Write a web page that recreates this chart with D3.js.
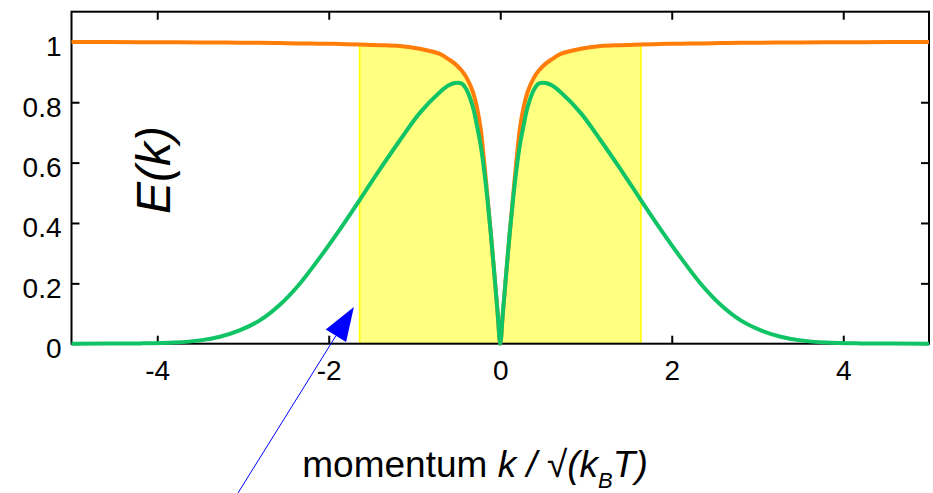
<!DOCTYPE html>
<html>
<head>
<meta charset="utf-8">
<script src="https://cdn.jsdelivr.net/npm/d3@7"></script>
<style>
  body { margin: 0; background: #fff; }
  svg { display: block; font-family: "Liberation Sans", Arial, sans-serif; }
</style>
</head>
<body>
<svg></svg>
<script>
// E(k) vs momentum (curve is symmetric about k = 0)
const kValues = [-5, -4.2, -3.8, -3.5, -3.27, -3.04, -2.8, -2.57, -2.34, -2.1, -1.87, -1.64, -1.52, -1.4, -1.17,
  -0.94, -0.705, -0.6, -0.53, -0.45, -0.39, -0.32, -0.27, -0.23, -0.19, -0.15, -0.11, -0.07, -0.03, 0,
  0.03, 0.07, 0.11, 0.15, 0.19, 0.23, 0.27, 0.32, 0.39, 0.45, 0.53, 0.6, 0.705, 0.94,
  1.17, 1.4, 1.52, 1.64, 1.87, 2.1, 2.34, 2.57, 2.8, 3.04, 3.27, 3.5, 3.8, 4.2, 5];

const orangeValues = [1.000, 0.999, 0.999, 0.998, 0.998, 0.997, 0.997, 0.996, 0.995, 0.994, 0.993, 0.991, 0.990, 0.989, 0.986,
  0.977, 0.960, 0.942, 0.928, 0.905, 0.880, 0.835, 0.780, 0.715, 0.610, 0.490, 0.365, 0.235, 0.100, 0,
  0.100, 0.235, 0.365, 0.490, 0.610, 0.715, 0.780, 0.835, 0.880, 0.905, 0.928, 0.942, 0.960, 0.977,
  0.986, 0.989, 0.990, 0.991, 0.993, 0.994, 0.995, 0.996, 0.997, 0.997, 0.998, 0.998, 0.999, 0.999, 1.000];

const greenValues = [0.000, 0.001, 0.004, 0.011, 0.023, 0.044, 0.078, 0.129, 0.198, 0.287, 0.379, 0.476, 0.528, 0.579, 0.674,
  0.764, 0.833, 0.856, 0.864, 0.862, 0.840, 0.785, 0.720, 0.660, 0.580, 0.480, 0.365, 0.235, 0.100, 0,
  0.100, 0.235, 0.365, 0.480, 0.580, 0.660, 0.720, 0.785, 0.840, 0.862, 0.864, 0.856, 0.833, 0.764,
  0.674, 0.579, 0.528, 0.476, 0.379, 0.287, 0.198, 0.129, 0.078, 0.044, 0.023, 0.011, 0.004, 0.001, 0.000];

const bandRange = [-1.64, 1.64];
const xTicks = [-4, -2, 0, 2, 4];
const yTicks = [0, 0.2, 0.4, 0.6, 0.8, 1];

const width = 933, height = 493;
const margin = { top: 12, right: 4, bottom: 149, left: 71.5 };

const svg = d3.select("svg").attr("width", width).attr("height", height);

const x = d3.scaleLinear().domain([-5, 5]).range([margin.left, width - margin.right]);
const y = d3.scaleLinear().domain([0, 1.1]).range([height - margin.bottom - 0.3, margin.top - 0.3]);

const orange = kValues.map((k, i) => ({ k, v: orangeValues[i] }));
const green = kValues.map((k, i) => ({ k, v: greenValues[i] }));

const smooth = d3.curveCatmullRom.alpha(0.5);

// yellow shaded band under the orange curve
const band = orange.filter(d => d.k >= bandRange[0] && d.k <= bandRange[1]);
svg.append("path")
  .datum(band)
  .attr("fill", "#ffff80")
  .attr("d", d3.area().x(d => x(d.k)).y0(y(0)).y1(d => y(d.v)).curve(smooth));

// band edges
svg.selectAll(".edge")
  .data([band[0], band[band.length - 1]])
  .enter().append("line")
  .attr("x1", d => x(d.k)).attr("x2", d => x(d.k))
  .attr("y1", y(0)).attr("y2", d => y(d.v))
  .attr("stroke", "#ffff00")
  .attr("stroke-width", 1.6);

// axes, ticks pointing inward
const plotW = x.range()[1] - x.range()[0];
const plotH = y.range()[0] - y.range()[1];

svg.append("g")
  .attr("transform", `translate(0,${y(0)})`)
  .call(d3.axisBottom(x).tickValues(xTicks).tickSize(-8).tickPadding(16).tickFormat(d => String(d)))
  .call(g => g.select(".domain").remove());

svg.append("g")
  .attr("transform", `translate(0,${y(1.1)})`)
  .call(d3.axisTop(x).tickValues(xTicks).tickSize(-8).tickFormat(""))
  .call(g => g.select(".domain").remove());

svg.append("g")
  .attr("transform", `translate(${x(-5)},0)`)
  .call(d3.axisLeft(y).tickValues(yTicks).tickSize(-8).tickPadding(10).tickFormat(d => String(d)))
  .call(g => g.select(".domain").remove())
  .call(g => g.selectAll("text").attr("dy", "0.5em"));

svg.append("g")
  .attr("transform", `translate(${x(5)},0)`)
  .call(d3.axisRight(y).tickValues(yTicks).tickSize(-8).tickFormat(""))
  .call(g => g.select(".domain").remove());

svg.selectAll(".tick line").attr("stroke", "#000").attr("stroke-width", 2);
svg.selectAll(".tick text").attr("font-size", 28).attr("fill", "#000")
  .attr("font-family", "'Liberation Sans', Arial, sans-serif");

svg.append("rect")
  .attr("x", x(-5)).attr("y", y(1.1))
  .attr("width", plotW).attr("height", plotH)
  .attr("fill", "none").attr("stroke", "#000").attr("stroke-width", 2);

// curves
const line = d3.line().x(d => x(d.k)).y(d => y(d.v)).curve(smooth);

svg.append("path").datum(orange)
  .attr("fill", "none").attr("stroke", "#ff7d08").attr("stroke-width", 4)
  .attr("stroke-linejoin", "round").attr("d", line);

svg.append("path").datum(green)
  .attr("fill", "none").attr("stroke", "#10c466").attr("stroke-width", 4)
  .attr("stroke-linejoin", "round").attr("d", line);

// y label
svg.append("text")
  .attr("transform", "translate(170,170) rotate(-90)")
  .attr("text-anchor", "middle")
  .attr("font-size", 48)
  .attr("font-style", "italic")
  .text("E(k)");

// x label
const xl = svg.append("text")
  .attr("x", 475).attr("y", 477)
  .attr("text-anchor", "middle")
  .attr("font-size", 37);
xl.append("tspan").text("momentum ");
xl.append("tspan").attr("font-style", "italic").text("k / √(k");
xl.append("tspan").attr("font-style", "italic").attr("font-size", 22).attr("dy", 11).text("B");
xl.append("tspan").attr("font-style", "italic").attr("dy", -11).text("T)");

// blue arrow pointing into the band
const tail = { k: -3.07, v: -0.5 }, tip = { k: -1.707, v: 0.122 };
const tx = x(tip.k), ty = y(tip.v), sx = x(tail.k), sy = y(tail.v);
const len = Math.hypot(tx - sx, ty - sy);
const ux = (tx - sx) / len, uy = (ty - sy) / len;
const headLen = 34, headHalf = 12;
const bx = tx - ux * headLen, by = ty - uy * headLen;

svg.append("line")
  .attr("x1", sx).attr("y1", sy).attr("x2", bx).attr("y2", by)
  .attr("stroke", "#0000ff").attr("stroke-width", 1);

svg.append("polygon")
  .attr("points", [[tx, ty], [bx - uy * headHalf, by + ux * headHalf], [bx + uy * headHalf, by - ux * headHalf]].join(" "))
  .attr("fill", "#0000ff");
</script>
</body>
</html>
